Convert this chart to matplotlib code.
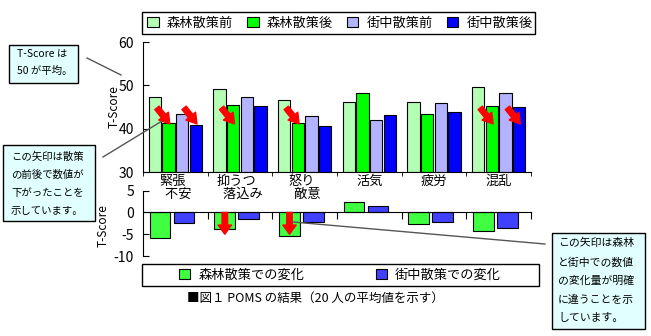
import matplotlib.pyplot as plt
from matplotlib.patches import Patch, Rectangle, FancyArrowPatch
from matplotlib.lines import Line2D
import numpy as np

plt.rcParams['font.family'] = ['Noto Sans CJK JP', 'DejaVu Sans']

# data
categories = ['緊張\n  不安', '抑うつ\n  落込み', '怒り\n  敵意', '活気', '疲労', '混乱']
series_names = ['森林散策前', '森林散策後', '街中散策前', '街中散策後']
forest_before = [47.2, 49.2, 46.7, 46.2, 46.2, 49.7]
forest_after = [41.3, 45.5, 41.2, 48.3, 43.5, 45.3]
city_before = [43.5, 47.2, 43.0, 41.9, 46.0, 48.3]
city_after = [40.9, 45.3, 40.7, 43.2, 43.9, 44.9]
change_names = ['森林散策での変化', '街中散策での変化']
forest_change = [-5.8, -3.7, -5.5, 2.3, -2.7, -4.2]
city_change = [-2.5, -1.6, -2.1, 1.4, -2.1, -3.5]
# (group, series index of the "before" bar) for red arrows on top chart
arrows_top = [(0, 0), (0, 2), (1, 0), (2, 0), (5, 0), (5, 2)]
arrows_bottom = [1, 2]

top_colors = ['#b3ffb3', '#00ff00', '#b3b3ff', '#0000ff']
bot_colors = ['#40ff40', '#4040ff']

W, H = 651, 336
def fx(px):
    return px / W
def fy(py):
    return 1 - py / H

fig = plt.figure(figsize=(6.51, 3.36), dpi=100)
x = np.arange(len(categories))

# ---- top chart
ax = fig.add_axes([fx(143), fy(172), (531 - 143) / W, 130 / H])
ax.patch.set_visible(False)
width = 0.19
step = 0.21
offsets = [(i - 1.5) * step for i in range(4)]
top_data = [forest_before, forest_after, city_before, city_after]
for vals, off, c in zip(top_data, offsets, top_colors):
    ax.bar(x + off, np.array(vals) - 30, width, bottom=30, color=c,
           edgecolor='black', linewidth=0.8, zorder=2)
ax.set_xlim(-0.5, 5.5)
ax.set_ylim(30, 60)
ax.set_yticks([30, 40, 50, 60])
ax.tick_params(axis='y', direction='in', length=4, pad=6.5, labelsize=10)
ax.set_xticks(x)
ax.set_xticklabels(categories, fontsize=9.5, multialignment='left', linespacing=1.05)
ax.tick_params(axis='x', length=0, pad=2)
ax.set_xticks(np.arange(-0.5, 6, 1), minor=True)
ax.tick_params(axis='x', which='minor', direction='out', length=3)
for s in ['top', 'right']:
    ax.spines[s].set_visible(False)
ax.set_ylabel('T-Score', fontsize=8.5)
ax.yaxis.set_label_coords(-0.057, 0.5)

for g, s in arrows_top:
    x0 = g + offsets[s] + 0.03
    x1 = g + offsets[s + 1] + 0.02
    arr = FancyArrowPatch((x0, 44.8), (x1, 41.1),
                          arrowstyle='simple,head_length=0.6,head_width=0.75,tail_width=0.33',
                          mutation_scale=12, color='red', shrinkA=0, shrinkB=0, zorder=5)
    ax.add_patch(arr)

# ---- bottom chart
ax2 = fig.add_axes([fx(143), fy(256), (531 - 143) / W, 65.3 / H])
ax2.patch.set_visible(False)
bw = 0.32
ax2.bar(x - 0.235, forest_change, bw, color=bot_colors[0], edgecolor='black', linewidth=0.8, zorder=2)
ax2.bar(x + 0.135, city_change, bw, color=bot_colors[1], edgecolor='black', linewidth=0.8, zorder=2)
ax2.set_xlim(-0.5, 5.5)
ax2.set_ylim(-10, 5)
ax2.set_yticks([5, 0, -5, -10])
ax2.set_yticklabels(['5', '0', '-5', '-10'])
ax2.tick_params(axis='y', direction='in', length=4, pad=6.5, labelsize=10)
ax2.spines['bottom'].set_position(('data', 0))
for s in ['top', 'right']:
    ax2.spines[s].set_visible(False)
ax2.set_xticks(np.arange(0.5, 6, 1))
ax2.set_xticklabels([])
ax2.tick_params(axis='x', direction='out', length=5)
ax2.set_ylabel('T-Score', fontsize=8.5)
ax2.yaxis.set_label_coords(-0.085, 0.47)
for g in arrows_bottom:
    arr = FancyArrowPatch((g - 0.235, 0), (g - 0.235, -5.0),
                          arrowstyle='simple,head_length=0.55,head_width=0.8,tail_width=0.33',
                          mutation_scale=12, color='red', shrinkA=0, shrinkB=0, zorder=5)
    ax2.add_patch(arr)

# ---- legends
top_handles = [Patch(facecolor=c, edgecolor='black', linewidth=0.8) for c in top_colors]
fig.legend(top_handles, series_names, loc='center', bbox_to_anchor=(fx(340), fy(23)),
           ncol=4, frameon=False, fontsize=9.5, handlelength=0.85, handleheight=0.85,
           handletextpad=0.6, columnspacing=1.1, borderpad=0)
fig.add_artist(Rectangle((fx(142), fy(34)), (535 - 142) / W, 22 / H, transform=fig.transFigure,
                         fill=False, edgecolor='black', linewidth=1))

bot_handles = [Patch(facecolor=c, edgecolor='black', linewidth=0.8) for c in bot_colors]
fig.legend(bot_handles, change_names, loc='center', bbox_to_anchor=(fx(340), fy(275)),
           ncol=2, frameon=False, fontsize=9.5, handlelength=0.85, handleheight=0.85,
           handletextpad=0.6, columnspacing=5.4, borderpad=0)
fig.add_artist(Rectangle((fx(142), fy(286)), (539 - 142) / W, 22 / H, transform=fig.transFigure,
                         fill=False, edgecolor='black', linewidth=1))

fig.text(fx(315), fy(298), '■図１ POMS の結果（20 人の平均値を示す）', ha='center', va='center', fontsize=9)

# ---- callout boxes and leader lines
box_fc = '#e2ffff'
def callout(x0, y0, x1, y1, txt, tx, ty, fs, ls):
    fig.add_artist(Rectangle((fx(x0), fy(y1)), (x1 - x0) / W, (y1 - y0) / H,
                             transform=fig.transFigure, facecolor=box_fc,
                             edgecolor='black', linewidth=1))
    fig.text(fx(tx), fy(ty), txt, ha='left', va='top', fontsize=fs, linespacing=ls)

callout(9, 45, 78, 83, 'T-Score は\n50 が平均。', 17, 49, 7.5, 1.85)
callout(3, 145, 95, 221, 'この矢印は散策\nの前後で数値が\n下がったことを\n示しています。', 11, 151, 7.5, 2.0)
callout(552, 233, 645, 329, 'この矢印は森林\nと街中での数値\nの変化量が明確\nに違うことを示\nしています。', 558, 238, 7.8, 2.0)

for (a, b, c, d) in [(87, 58, 121, 75), (103, 157, 162, 121), (293, 222, 545, 244)]:
    fig.add_artist(Line2D([fx(a), fx(c)], [fy(b), fy(d)], transform=fig.transFigure,
                          color='#555555', linewidth=1))

fig.savefig('out.png', dpi=100)
